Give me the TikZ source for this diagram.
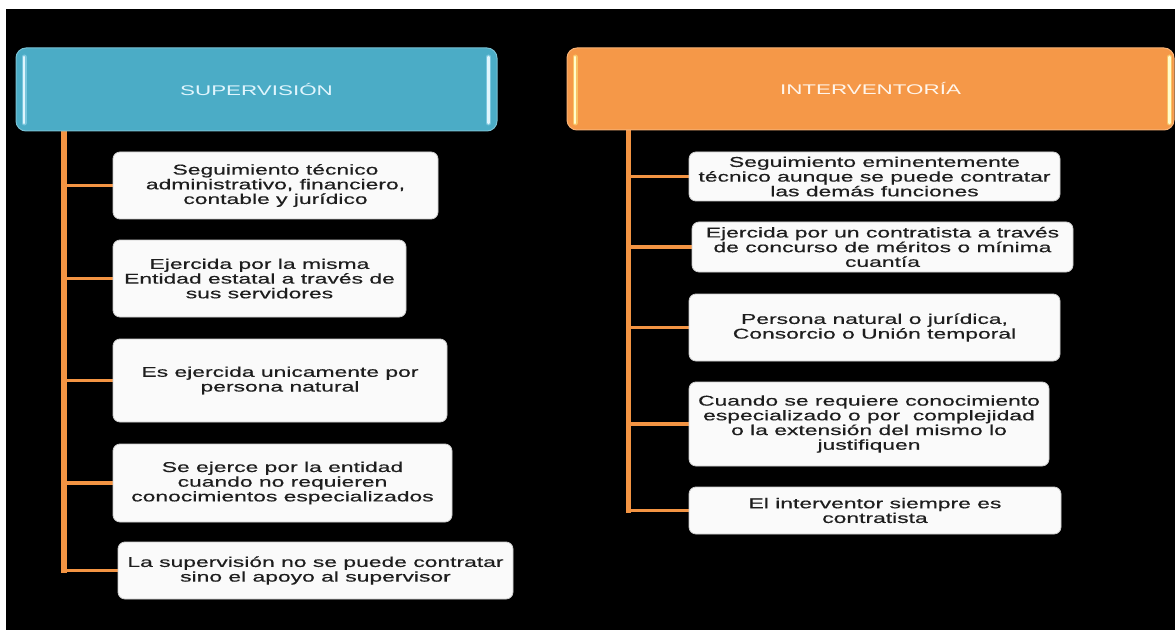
\documentclass[tikz,border=0pt]{standalone}
\usepackage{fontspec}
\setmainfont{Liberation Sans}[FakeStretch=1.6]
\newfontfamily\boxfont{Liberation Sans}[FakeStretch=1.61, FakeBold=0.5]
\definecolor{supblue}{HTML}{4BACC6}
\definecolor{intorange}{HTML}{F59848}
\definecolor{lineorange}{HTML}{F39443}
\definecolor{boxtext}{HTML}{1E1E1E}
\definecolor{boxfill}{HTML}{FAFAFA}
\pgfdeclarelayer{bg}
\pgfdeclarelayer{conn}
\pgfsetlayers{bg,conn,main}
\begin{document}
\begin{tikzpicture}[x=1pt,y=-1pt,
  box/.style={draw=gray!40, fill=boxfill, rounded corners=7pt, line width=0.8pt,
    inner sep=0pt, align=center, text=boxtext, font=\boxfont\fontsize{14.2}{14.7}\selectfont},
  hdr/.style={rounded corners=10pt, inner sep=0pt, line width=1pt,
    font=\fontsize{14}{16}\selectfont},
  spine/.style={draw=lineorange, line width=5.5pt, line cap=rect},
  branch/.style={draw=lineorange, line width=3.8pt},
  glowbar/.style={line width=5pt, line cap=round, opacity=0.45},
  hibar/.style={line width=2.6pt, line cap=round}
]
\useasboundingbox (0,0) rectangle (1175,631);
\begin{pgfonlayer}{bg}
\fill[white] (0,0) rectangle (1175,631);
\fill[black] (6,9) rectangle (1175,630);
\end{pgfonlayer}

% headers
\node[hdr, fill=supblue, draw=supblue!75!white, text=white!88!cyan,
  minimum width=481pt, minimum height=83pt] (sup) at (256.5,89.5) {SUPERVISIÓN};
\node[hdr, fill=intorange, draw=intorange!75!white, text=white!92!orange,
  minimum width=607pt, minimum height=82pt] (int) at (870.5,89) {INTERVENTORÍA};

% highlight bars
\draw[glowbar, cyan!30!white] (24,57) -- (24,123);
\draw[hibar, cyan!12!white] (24,57) -- (24,123);
\draw[glowbar, cyan!30!white] (488.5,57) -- (488.5,123);
\draw[hibar, cyan!12!white] (488.5,57) -- (488.5,123);
\draw[glowbar, yellow!45!white] (575,57) -- (575,123);
\draw[hibar, yellow!20!white] (575,57) -- (575,123);
\draw[glowbar, yellow!45!white] (1169.5,57) -- (1169.5,123);
\draw[hibar, yellow!20!white] (1169.5,57) -- (1169.5,123);

% left boxes
\node[box, minimum width=325pt, minimum height=67pt] (b1) at (275.5,185.5)
  {Seguimiento técnico\\administrativo, financiero,\\contable y jurídico};
\node[box, minimum width=293pt, minimum height=77pt] (b2) at (259.5,278.5)
  {Ejercida por la misma\\Entidad estatal a través de\\sus servidores};
\node[box, minimum width=334pt, minimum height=83pt] (b3) at (280,380.5)
  {Es ejercida unicamente por\\persona natural};
\node[box, minimum width=339pt, minimum height=78pt] (b4) at (282.5,483)
  {Se ejerce por la entidad\\cuando no requieren\\conocimientos especializados};
\node[box, minimum width=395pt, minimum height=57pt] (b5) at (315.5,570.5)
  {La supervisión no se puede contratar\\sino el apoyo al supervisor};

% right boxes
\node[box, minimum width=371pt, minimum height=49pt] (r1) at (874.5,176.5)
  {Seguimiento eminentemente\\técnico aunque se puede contratar\\las demás funciones};
\node[box, minimum width=381pt, minimum height=50pt] (r2) at (882.5,247)
  {Ejercida por un contratista a través\\de concurso de méritos o mínima\\cuantía};
\node[box, minimum width=371pt, minimum height=67pt] (r3) at (874.5,327.5)
  {Persona natural o jurídica,\\Consorcio o Unión temporal};
\node[box, minimum width=360pt, minimum height=84pt] (r4) at (869,424)
  {Cuando se requiere conocimiento\\especializado o por~ complejidad\\o la extensión del mismo lo\\justifiquen};
\node[box, minimum width=372pt, minimum height=47pt] (r5) at (875,510.5)
  {El interventor siempre es\\contratista};

% connectors
\coordinate (ls) at (64,131);
\coordinate (rs) at (628.5,130);
\begin{pgfonlayer}{conn}
\draw[spine] (ls) -- (ls |- b5.west);
\foreach \b in {b1,b2,b3,b4,b5} \draw[branch] (ls |- \b.west) -- (\b.west);
\draw[spine] (rs) -- (rs |- r5.west);
\foreach \b in {r1,r2,r3,r4,r5} \draw[branch] (rs |- \b.west) -- (\b.west);
\end{pgfonlayer}
\end{tikzpicture}
\end{document}
